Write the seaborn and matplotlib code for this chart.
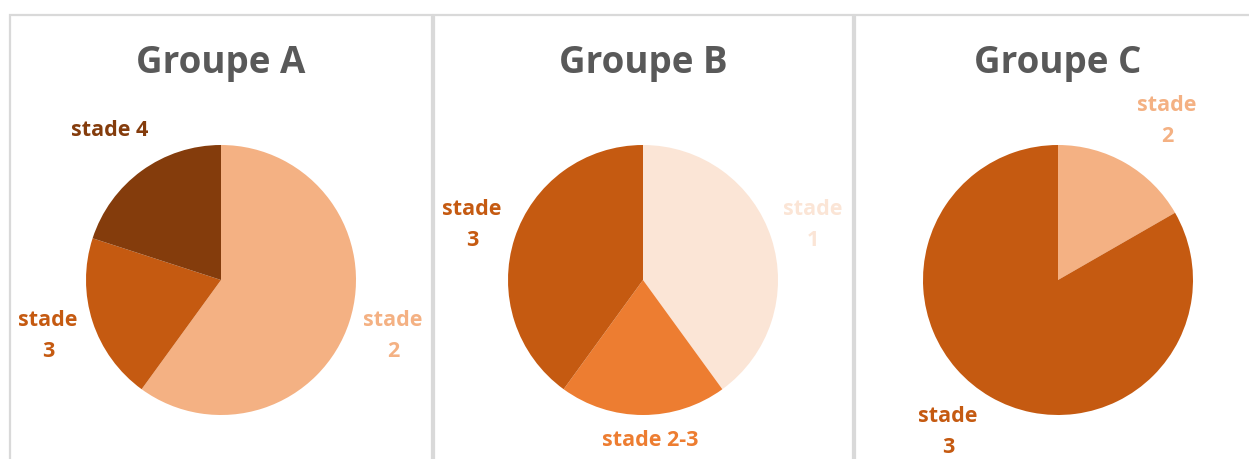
import matplotlib
matplotlib.use("Agg")
import matplotlib.pyplot as plt
import seaborn as sns
from matplotlib.patches import Rectangle

sns.set_theme(style="white")
plt.rcParams["font.family"] = ["Open Sans", "DejaVu Sans"]

# data (shares, clockwise from 12 o'clock)
titles = ["Groupe A", "Groupe B", "Groupe C"]
labels_a = ["stade 2", "stade 3", "stade 4"]
values_a = [60, 20, 20]
colors_a = ["#F4B183", "#C55A11", "#843C0C"]
labels_b = ["stade 1", "stade 2-3", "stade 3"]
values_b = [40, 20, 40]
colors_b = ["#FBE5D6", "#ED7D31", "#C55A11"]
labels_c = ["stade 2", "stade 3"]
values_c = [16.7, 83.3]
colors_c = ["#F4B183", "#C55A11"]

W, H = 1249, 459
fig = plt.figure(figsize=(W / 100, H / 100), dpi=100)
ax = fig.add_axes([0, 0, 1, 1])
ax.axis("off")

# panel frames (pixels, y measured from top)
panels = [(10, 432), (434, 853), (855, 1262)]
for x0, x1 in panels:
    ax.add_patch(Rectangle((x0, -10), x1 - x0, H - 15 + 10, fill=False,
                           edgecolor="#D9D9D9", linewidth=1.6))

centers = [221, 643, 1058]
radius = 135
cy = H - 280
groups = [(values_a, colors_a), (values_b, colors_b), (values_c, colors_c)]
for (vals, cols), cx, title in zip(groups, centers, titles):
    ax.pie(vals, colors=cols, startangle=90, counterclock=False,
           center=(cx, cy), radius=radius,
           wedgeprops=dict(linewidth=0))
    ax.text(cx, H - 63, title, ha="center", va="center", fontsize=26.5,
            fontweight="bold", color="#595959")

ax.set_xlim(0, W)
ax.set_ylim(0, H)
ax.set_aspect("equal")

# labels: (text, x, y from top, colour)
lab = [
    ("stade 4", 110, 130, colors_a[2]),
    ("stade\n3", 48, 336, colors_a[1]),
    ("stade\n2", 393, 336, colors_a[0]),
    ("stade\n3", 472, 225, colors_b[2]),
    ("stade\n1", 813, 225, colors_b[0]),
    ("stade 2-3", 650, 440, colors_b[1]),
    ("stade\n2", 1167, 121, colors_c[0]),
    ("stade\n3", 948, 432, colors_c[1]),
]
for t, x, y, c in lab:
    ax.text(x, H - y, t, ha="center", va="center", fontsize=15.5,
            fontweight="bold", color=c, linespacing=1.6)

fig.savefig("out.png", dpi=100, facecolor="white")
